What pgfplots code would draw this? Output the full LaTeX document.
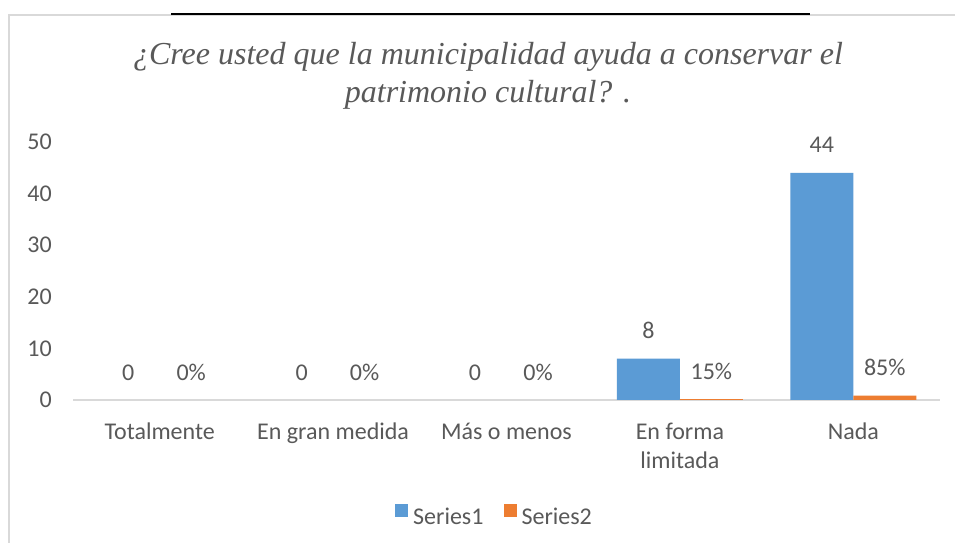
\documentclass[border=0pt]{standalone}
\usepackage{fontspec}
\setmainfont{Carlito}
\newfontfamily\titlefont{Liberation Serif}
\usepackage{pgfplots}
\pgfplotsset{compat=1.18}
\definecolor{sblue}{HTML}{5B9BD5}
\definecolor{sorange}{HTML}{ED7D31}
\definecolor{txt}{HTML}{595959}
\definecolor{axg}{HTML}{D9D9D9}
\newcommand{\lab}{\fontsize{24bp}{29bp}\selectfont}
\begin{document}
\begin{tikzpicture}
\path[use as bounding box] (0,0) rectangle (955bp,543bp);
\fill[white] (0,0) rectangle (955bp,543bp);
\draw[axg, line width=1.5bp] (9bp,-2bp) -- (9bp,528bp) -- (960bp,528bp);
\draw[black, line width=1.5bp] (171bp,529bp) -- (810bp,529bp);
\node[anchor=base, inner sep=0pt, font=\titlefont\itshape\fontsize{32bp}{38bp}\selectfont, text=txt] at (488bp,478bp) {¿Cree usted que la municipalidad ayuda a conservar el};
\node[anchor=base, inner sep=0pt, font=\titlefont\itshape\fontsize{32bp}{38bp}\selectfont, text=txt] at (488bp,440bp) {patrimonio cultural? .};
\begin{axis}[
  at={(73bp,143bp)}, anchor=south west, scale only axis,
  width=867bp, height=258bp,
  xmin=-0.5, xmax=4.5, ymin=0, ymax=50,
  ybar=0pt, bar width=63bp,
  legend image code/.code={\fill[#1] (0bp,0bp) rectangle (13bp,13bp);},
  xtick={0,...,4},
  xticklabels={Totalmente, En gran medida, Más o menos, En forma\\limitada, Nada},
  ytick={0,10,...,50},
  major tick length=0pt,
  axis x line*=bottom, axis y line*=left,
  x axis line style={draw=axg, line width=1.5bp, -},
  y axis line style={draw=none},
  /pgf/number format/assume math mode=true,
  tick label style={font=\lab, text=txt, inner sep=0pt},
  xticklabel style={align=center, anchor=north, yshift=-23bp},
  yticklabel style={anchor=east, xshift=-21bp},
  nodes near coords,
  every node near coord/.append style={anchor=base, yshift=20bp, inner sep=0pt, font=\lab, text=txt},
  legend columns=2,
  legend style={at={(0.3714,-0.445)}, anchor=west, draw=none, fill=none, inner sep=0pt,
    font=\lab, text=txt, nodes={inner sep=0pt},
    /tikz/every odd column/.append style={column sep=5bp},
    /tikz/every even column/.append style={column sep=20bp}},
]
\addplot[fill=sblue, draw=none] coordinates {(0,0) (1,0) (2,0) (3,8) (4,44)};
\addplot[fill=sorange, draw=none, point meta=explicit symbolic] coordinates {(0,0) [0\%] (1,0) [0\%] (2,0) [0\%] (3,0.15) [15\%] (4,0.85) [85\%]};
\legend{Series1, Series2}
\end{axis}
\end{tikzpicture}
\end{document}
